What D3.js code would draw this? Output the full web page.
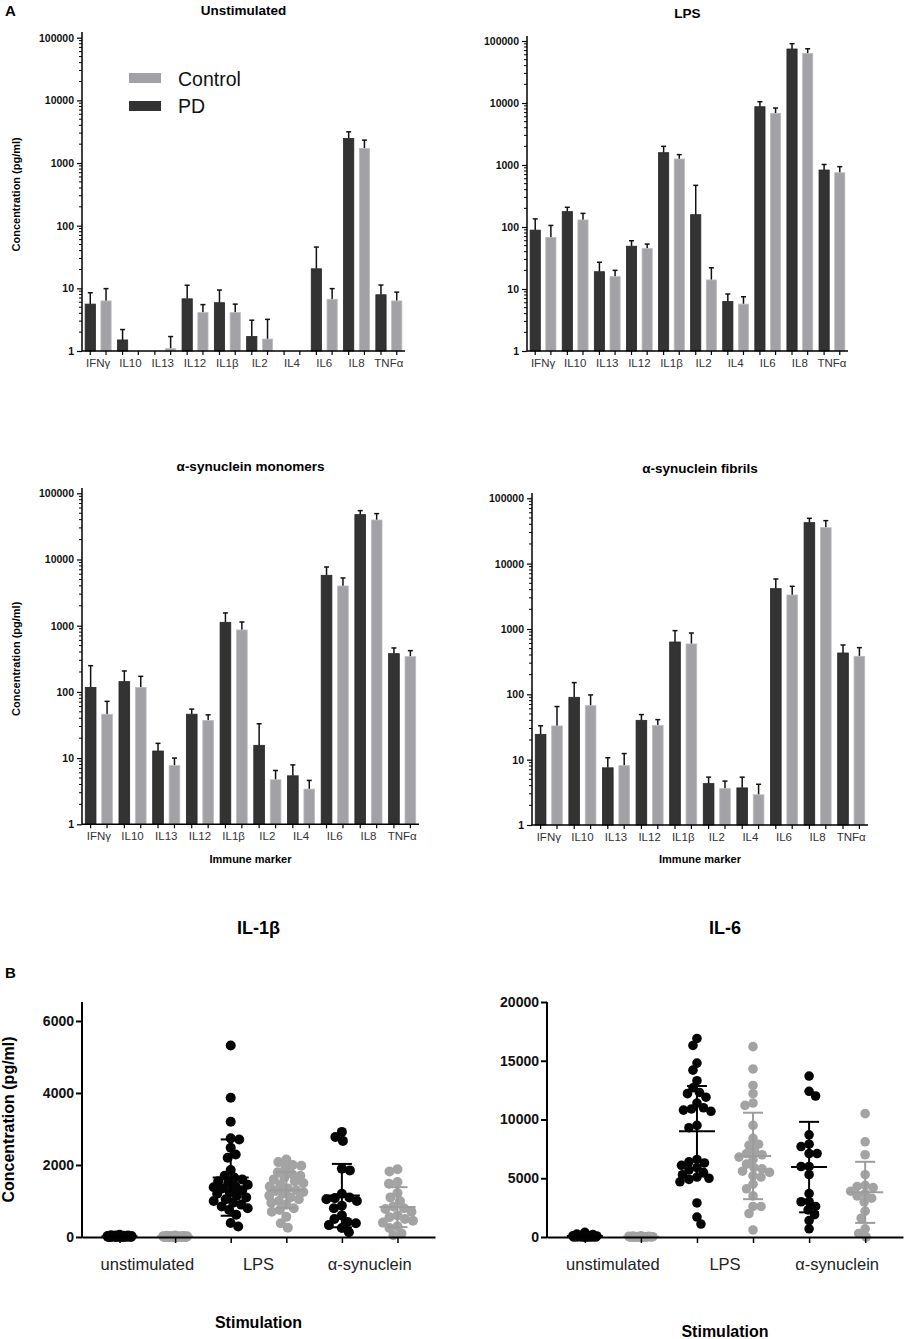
<!DOCTYPE html>
<html>
<head>
<meta charset="utf-8">
<script src="https://cdnjs.cloudflare.com/ajax/libs/d3/7.8.5/d3.min.js"></script>
<style>
  body { margin: 0; background: #fff; }
  text { font-family: "Liberation Sans", Arial, sans-serif; }
</style>
</head>
<body>
<div id="fig"></div>
<script>
// ---- panel A: immune markers (bar charts, log scale) ----
var markers = ['IFNγ', 'IL10', 'IL13', 'IL12', 'IL1β', 'IL2', 'IL4', 'IL6', 'IL8', 'TNFα'];
var groups = ['PD', 'Control'];
var logTicks = [1, 10, 100, 1000, 10000, 100000];

// mean and top of error bar, null = no bar
var unstimPD     = [5.6, 1.5, null, 6.8, 5.9, 1.7, null, 20.5, 2470, 7.9];
var unstimPDErr  = [8.5, 2.2, null, 11.2, 9.4, 3.1, null, 45.6, 3150, 11.3];
var unstimCtl    = [6.3, null, 1.09, 4.1, 4.1, 1.55, null, 6.7, 1710, 6.3];
var unstimCtlErr = [9.9, null, 1.7, 5.5, 5.6, 3.2, null, 9.9, 2320, 8.7];

var lpsPD     = [89, 177, 19, 49, 1580, 158, 6.3, 8700, 74300, 830];
var lpsPDErr  = [135, 208, 27, 60, 2000, 470, 8.3, 10500, 90500, 1020];
var lpsCtl    = [68, 130, 15.8, 45, 1250, 14, 5.7, 6800, 63000, 750];
var lpsCtlErr = [106, 166, 20, 53, 1470, 22, 7.5, 8300, 75000, 940];

var monoPD     = [117, 143, 12.8, 46, 1125, 15.6, 5.4, 5770, 47600, 378];
var monoPDErr  = [249, 207, 16.7, 55, 1560, 33, 7.9, 7710, 54700, 461];
var monoCtl    = [46, 117, 7.7, 37, 862, 4.7, 3.4, 3980, 39500, 341];
var monoCtlErr = [72, 172, 10, 45, 1138, 6.5, 4.6, 5260, 49300, 420];

var fibPD     = [24.4, 90, 7.5, 40, 632, 4.3, 3.7, 4140, 42400, 429];
var fibPDErr  = [33, 151, 10.7, 49, 943, 5.4, 5.4, 5820, 49400, 569];
var fibCtl    = [32.8, 67, 8.1, 33.5, 590, 3.6, 2.9, 3310, 35600, 382];
var fibCtlErr = [65, 98, 12.4, 41, 868, 4.7, 4.2, 4500, 45500, 518];

// ---- panel B: individual subjects (scatter) ----
var stimLabels = ['unstimulated', 'LPS', 'α-synuclein'];
var columns = ['unstimPD', 'unstimCtl', 'lpsPD', 'lpsCtl', 'asynPD', 'asynCtl'];

var il1bUnstimPD  = [60, 50, 45, 40, 35, 30, 28, 25, 22, 20, 18, 15, 12, 10, 8, 6, 5, 4, 3, 2, 1, 0, 0, 0];
var il1bUnstimCtl = [40, 35, 30, 25, 22, 20, 18, 15, 12, 10, 8, 6, 5, 4, 3, 2, 1, 0, 0, 0, 0, 0, 0, 0];
var il1bLpsPD  = [5320, 3870, 3200, 2740, 2710, 2480, 2290, 2200, 1860, 1700, 1650, 1600, 1550, 1500, 1450, 1400, 1380,
                  1350, 1300, 1250, 1200, 1150, 1100, 1050, 1000, 950, 900, 850, 800, 750, 620, 390, 290];
var il1bLpsCtl = [2150, 2080, 2000, 1980, 1900, 1800, 1750, 1700, 1650, 1600, 1550, 1500, 1450, 1400, 1350, 1300,
                  1280, 1250, 1200, 1150, 1100, 1050, 1000, 950, 900, 800, 750, 700, 560, 380, 260];
var il1bAsynPD  = [2920, 2780, 2670, 1900, 1850, 1200, 1100, 1080, 1050, 1000, 870, 800, 600, 500, 420, 380, 330, 250, 130];
var il1bAsynCtl = [1880, 1820, 1530, 1480, 1220, 1100, 1000, 850, 800, 780, 700, 600, 550, 500, 450, 400, 300, 250, 100, 50];
var il1bMean = [20, 15, 1650, 1300, 1150, 830];
var il1bSD   = [15, 10, 1060, 500, 880, 555];
var il1bTicks = [0, 2000, 4000, 6000];

var il6UnstimPD  = [400, 250, 200, 150, 120, 100, 90, 80, 70, 60, 50, 40, 30, 20, 10, 5, 0, 0, 0, 0, 0, 0];
var il6UnstimCtl = [100, 80, 60, 50, 40, 30, 25, 20, 15, 10, 5, 0, 0, 0, 0, 0, 0, 0, 0, 0, 0, 0];
var il6LpsPD  = [16900, 16300, 14800, 14200, 13300, 12700, 12300, 12200, 11900, 11400, 11000, 10900, 10800, 10700, 9500,
                 9300, 6600, 6400, 6300, 6100, 5900, 5700, 5500, 5300, 5100, 5000, 4900, 4700, 2900, 1700, 1100];
var il6LpsCtl = [16200, 14300, 12900, 12200, 11400, 11200, 9500, 8400, 7900, 7800, 7300, 7100, 7000, 6800, 6600, 6200,
                 5900, 5800, 5600, 5500, 5200, 5100, 4500, 4100, 3500, 2600, 2600, 2000, 600];
var il6AsynPD  = [13700, 12400, 12000, 8700, 7900, 7700, 7100, 7100, 6000, 6000, 5300, 3700, 3000, 3000, 2600, 2300, 1900, 1400, 700];
var il6AsynCtl = [10500, 8100, 7000, 5300, 4400, 4300, 4200, 3900, 3700, 3500, 3300, 3000, 2200, 1600, 700, 300, 0];
var il6Mean = [80, 30, 9000, 6900, 5950, 3800];
var il6SD   = [60, 20, 3850, 3680, 3850, 2600];
var il6Ticks = [0, 5000, 10000, 15000, 20000];

var width = 905, height = 1339;
var pdColor = '#333333', ctlColor = '#a2a2a6';
var dotPD = '#050505', dotCtl = '#a3a3a3';

var svg = d3.select('#fig').append('svg')
    .attr('width', width)
    .attr('height', height);

svg.append('text').attr('x', 5).attr('y', 16)
    .attr('font-size', 15).attr('font-weight', 'bold').text('A');
svg.append('text').attr('x', 5).attr('y', 978)
    .attr('font-size', 15).attr('font-weight', 'bold').text('B');

function barPanel(opt) {
  var g = svg.append('g');
  var x0 = d3.scaleBand().domain(markers).range([opt.left, opt.right]);
  var x1 = d3.scaleBand().domain(groups).range([0, x0.bandwidth()])
      .paddingInner(0.35).paddingOuter(0.2);
  var y = d3.scaleLog().domain([1, 100000]).range([opt.bottom, opt.top]);

  var rows = [];
  markers.forEach(function(m, i) {
    rows.push({m: m, grp: 'PD', v: opt.pd[i], e: opt.pdErr[i]});
    rows.push({m: m, grp: 'Control', v: opt.ctl[i], e: opt.ctlErr[i]});
  });
  var shown = rows.filter(d => d.v != null);

  // error bars (upper only)
  g.selectAll('.err').data(shown).join('line')
      .attr('x1', d => x0(d.m) + x1(d.grp) + x1.bandwidth() / 2)
      .attr('x2', d => x0(d.m) + x1(d.grp) + x1.bandwidth() / 2)
      .attr('y1', d => y(d.v)).attr('y2', d => y(d.e))
      .attr('stroke', '#111').attr('stroke-width', 1.5);
  g.selectAll('.cap').data(shown).join('line')
      .attr('x1', d => x0(d.m) + x1(d.grp) + x1.bandwidth() / 2 - 2.5)
      .attr('x2', d => x0(d.m) + x1(d.grp) + x1.bandwidth() / 2 + 2.5)
      .attr('y1', d => y(d.e)).attr('y2', d => y(d.e))
      .attr('stroke', '#111').attr('stroke-width', 1.5);

  g.selectAll('rect').data(shown).join('rect')
      .attr('x', d => x0(d.m) + x1(d.grp))
      .attr('y', d => y(d.v))
      .attr('width', x1.bandwidth())
      .attr('height', d => y(1) - y(d.v))
      .attr('fill', d => d.grp == 'PD' ? pdColor : ctlColor)
      .attr('stroke', d => d.grp == 'PD' ? '#262626' : '#bcbcbf')
      .attr('stroke-width', 0.8);

  // y axis
  var yAxis = g.append('g')
      .attr('transform', `translate(${opt.left},0)`)
      .call(d3.axisLeft(y).tickValues(logTicks).tickFormat(d3.format('d')).tickSize(5).tickSizeOuter(0));
  yAxis.select('.domain').remove();
  yAxis.selectAll('line').attr('stroke', '#000').attr('stroke-width', 1.2);
  yAxis.selectAll('text').attr('font-size', 10.5).attr('font-weight', 'bold')
      .attr('fill', '#111').attr('font-family', '"Liberation Sans", Arial, sans-serif');
  var minor = [];
  for (var k = 0; k < 5; k++) for (var m = 2; m < 10; m++) minor.push(m * Math.pow(10, k));
  g.selectAll('.minor').data(minor).join('line')
      .attr('x1', opt.left - 3).attr('x2', opt.left)
      .attr('y1', d => y(d)).attr('y2', d => y(d))
      .attr('stroke', '#000').attr('stroke-width', 1);
  g.append('line')
      .attr('x1', opt.left).attr('x2', opt.left)
      .attr('y1', y(1)).attr('y2', opt.axisTop)
      .attr('stroke', '#000').attr('stroke-width', 1.5);

  // x axis with a tick under every bar slot
  g.append('line')
      .attr('x1', opt.left).attr('x2', opt.right)
      .attr('y1', y(1)).attr('y2', y(1))
      .attr('stroke', '#000').attr('stroke-width', 1.5);
  g.selectAll('.xt').data(rows).join('line')
      .attr('x1', d => x0(d.m) + x1(d.grp) + x1.bandwidth() / 2)
      .attr('x2', d => x0(d.m) + x1(d.grp) + x1.bandwidth() / 2)
      .attr('y1', y(1)).attr('y2', y(1) + 4)
      .attr('stroke', '#000').attr('stroke-width', 1.2);
  g.selectAll('.xl').data(markers).join('text')
      .attr('x', d => x0(d) + x0.bandwidth() / 2)
      .attr('y', y(1) + 15.5)
      .attr('text-anchor', 'middle')
      .attr('font-size', 11.5).attr('fill', '#333')
      .text(d => d);

  g.append('text')
      .attr('x', (opt.left + opt.right) / 2 + opt.titleDx).attr('y', opt.titleY)
      .attr('text-anchor', 'middle').attr('font-size', 13.5).attr('font-weight', 'bold')
      .text(opt.title);

  if (opt.yLabel) {
    g.append('text')
        .attr('transform', `translate(${opt.left - 62},${(y(1) + y(100000)) / 2}) rotate(-90)`)
        .attr('text-anchor', 'middle').attr('font-size', 11).attr('font-weight', 'bold')
        .text('Concentration (pg/ml)');
  }
  if (opt.xLabel) {
    g.append('text')
        .attr('x', (opt.left + opt.right) / 2).attr('y', opt.xLabelY)
        .attr('text-anchor', 'middle').attr('font-size', 11).attr('font-weight', 'bold')
        .text('Immune marker');
  }
  return {x0: x0, y: y};
}

barPanel({left: 82, right: 405, top: 37.7, bottom: 351, axisTop: 32, title: 'Unstimulated', titleY: 15, titleDx: 0,
  pd: unstimPD, pdErr: unstimPDErr, ctl: unstimCtl, ctlErr: unstimCtlErr, yLabel: true});
barPanel({left: 527, right: 848, top: 41, bottom: 351, axisTop: 36, title: 'LPS', titleY: 18, titleDx: 0,
  pd: lpsPD, pdErr: lpsPDErr, ctl: lpsCtl, ctlErr: lpsCtlErr});
barPanel({left: 82, right: 419, top: 493.3, bottom: 824.3, axisTop: 488, title: 'α-synuclein monomers', titleY: 471, titleDx: 0,
  pd: monoPD, pdErr: monoPDErr, ctl: monoCtl, ctlErr: monoCtlErr, yLabel: true, xLabel: true, xLabelY: 863});
barPanel({left: 532, right: 868, top: 498.3, bottom: 825, axisTop: 493, title: 'α-synuclein fibrils', titleY: 473, titleDx: 0,
  pd: fibPD, pdErr: fibPDErr, ctl: fibCtl, ctlErr: fibCtlErr, xLabel: true, xLabelY: 863});

// legend in the first panel
var legend = svg.append('g');
legend.selectAll('rect').data(['Control', 'PD']).join('rect')
    .attr('x', 129).attr('y', (d, i) => 73 + i * 28)
    .attr('width', 32).attr('height', 10)
    .attr('fill', d => d == 'PD' ? pdColor : ctlColor);
legend.selectAll('text').data(['Control', 'PD']).join('text')
    .attr('x', 178).attr('y', (d, i) => 85.5 + i * 27.5)
    .attr('font-size', 19.5).attr('fill', '#111')
    .text(d => d);

// simple beeswarm: nearest free horizontal slot, overlap allowed when crowded
function swarm(values, y, r, maxW) {
  var pts = values.map(v => ({v: v, y: y(v)})).sort((a, b) => a.y - b.y);
  var placed = [];
  var minD = 2 * r * 0.82;
  pts.forEach(function(p, idx) {
    var sign = idx % 2 ? -1 : 1;
    var found = null;
    for (var k = 0; k <= maxW && found === null; k += 0.5) {
      var cands = k == 0 ? [0] : [sign * k, -sign * k];
      for (var c = 0; c < cands.length; c++) {
        var ok = placed.every(q => Math.hypot(q.dx - cands[c], q.y - p.y) >= minD);
        if (ok) { found = cands[c]; break; }
      }
    }
    if (found === null) {
      var best = 0, bestD = -1;
      for (var s = -maxW; s <= maxW; s += 0.5) {
        var dmin = d3.min(placed, q => Math.hypot(q.dx - s, q.y - p.y));
        if (dmin > bestD) { bestD = dmin; best = s; }
      }
      found = best;
    }
    placed.push({v: p.v, y: p.y, dx: found});
  });
  return placed;
}

function scatterPanel(opt) {
  var g = svg.append('g');
  var x = d3.scalePoint().domain(columns).range([opt.left, opt.right]).padding(0.675);
  var y = d3.scaleLinear().domain([0, opt.ticks[opt.ticks.length - 1]]).range([1237, opt.topTick]);
  var r = opt.r;

  opt.data.forEach(function(vals, i) {
    var col = columns[i];
    var isPD = i % 2 == 0;
    var pts = swarm(vals, y, r, i < 2 ? 12 : 17);
    g.append('g').selectAll('circle').data(pts).join('circle')
        .attr('cx', d => x(col) + d.dx)
        .attr('cy', d => d.y)
        .attr('r', r)
        .attr('fill', isPD ? dotPD : dotCtl);
  });

  // mean +/- SD
  columns.forEach(function(col, i) {
    var c = i % 2 == 0 ? '#000' : '#9c9c9c';
    var m = opt.mean[i], s = opt.sd[i];
    var lg = g.append('g').attr('stroke', c).attr('stroke-width', 2);
    lg.append('line').attr('x1', x(col)).attr('x2', x(col))
        .attr('y1', y(Math.max(0, m - s))).attr('y2', y(m + s));
    lg.append('line').attr('x1', x(col) - 18).attr('x2', x(col) + 18)
        .attr('y1', y(m)).attr('y2', y(m));
    [m + s, Math.max(0, m - s)].forEach(function(v) {
      lg.append('line').attr('x1', x(col) - 10).attr('x2', x(col) + 10)
          .attr('y1', y(v)).attr('y2', y(v));
    });
  });

  // axes
  var yAxis = g.append('g')
      .attr('transform', `translate(${opt.left},0)`)
      .call(d3.axisLeft(y).tickValues(opt.ticks).tickFormat(d3.format('d')).tickSize(6).tickSizeOuter(0));
  yAxis.select('.domain').remove();
  yAxis.selectAll('line').attr('stroke', '#000').attr('stroke-width', 2);
  yAxis.selectAll('text').attr('font-size', 14).attr('font-weight', 'bold').attr('fill', '#111')
      .attr('x', -8).attr('font-family', '"Liberation Sans", Arial, sans-serif');
  g.append('line')
      .attr('x1', opt.left).attr('x2', opt.left)
      .attr('y1', y(0) + 1).attr('y2', opt.axisTop)
      .attr('stroke', '#000').attr('stroke-width', 2);

  var xAxis = g.append('g')
      .attr('transform', `translate(0,${y(0)})`)
      .call(d3.axisBottom(x).tickSize(6).tickSizeOuter(0).tickFormat(''));
  xAxis.select('.domain').attr('stroke-width', 2);
  xAxis.selectAll('line').attr('stroke', '#000').attr('stroke-width', 1.5);

  stimLabels.forEach(function(lab, i) {
    g.append('text')
        .attr('x', (x(columns[2 * i]) + x(columns[2 * i + 1])) / 2)
        .attr('y', 1270)
        .attr('text-anchor', 'middle').attr('font-size', 16.5).attr('fill', '#222')
        .text(lab);
  });
  var mid = (x(columns[2]) + x(columns[3])) / 2;
  g.append('text').attr('x', mid).attr('y', opt.stimY)
      .attr('text-anchor', 'middle').attr('font-size', 16).attr('font-weight', 'bold')
      .text('Stimulation');
  g.append('text').attr('x', mid).attr('y', 934)
      .attr('text-anchor', 'middle').attr('font-size', 18).attr('font-weight', 'bold')
      .text(opt.title);
  if (opt.yLabel) {
    g.append('text')
        .attr('transform', `translate(14,${(1237 + opt.axisTop) / 2}) rotate(-90)`)
        .attr('text-anchor', 'middle').attr('font-size', 16).attr('font-weight', 'bold')
        .text('Concentration (pg/ml)');
  }
}

scatterPanel({left: 82, right: 435, ticks: il1bTicks, topTick: 1021, axisTop: 1002, r: 5,
  data: [il1bUnstimPD, il1bUnstimCtl, il1bLpsPD, il1bLpsCtl, il1bAsynPD, il1bAsynCtl],
  mean: il1bMean, sd: il1bSD, title: 'IL-1β', stimY: 1328, yLabel: true});
scatterPanel({left: 547, right: 903, ticks: il6Ticks, topTick: 1002, axisTop: 1002, r: 4.8,
  data: [il6UnstimPD, il6UnstimCtl, il6LpsPD, il6LpsCtl, il6AsynPD, il6AsynCtl],
  mean: il6Mean, sd: il6SD, title: 'IL-6', stimY: 1337});
</script>
</body>
</html>
